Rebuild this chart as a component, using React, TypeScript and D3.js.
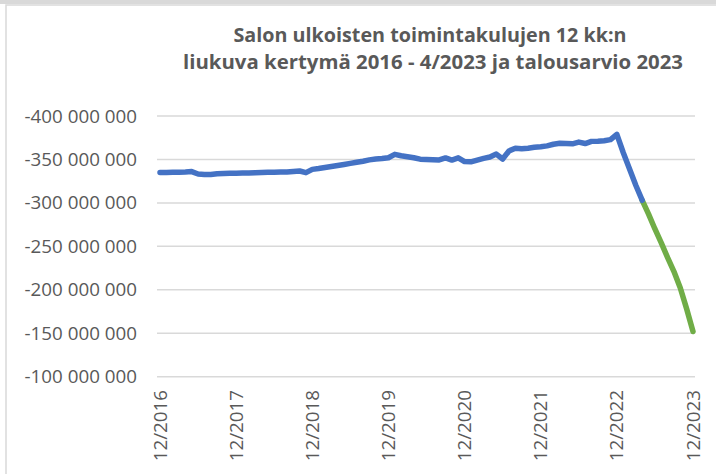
import React from 'react'
import * as d3 from 'd3'

// 12 kk liukuva kertymä, milj. euroa (luettu kuvasta)
const actualValues = [
	-335.0, -335.0, -335.2, -335.4, -335.6, -336.0, -333.3, -332.8, -332.8, -333.6, -333.8, -334.0,
	-334.1, -334.3, -334.4, -334.7, -335.0, -335.2, -335.4, -335.5, -335.6, -336.2, -336.7, -334.8,
	-338.6, -339.6, -340.8, -341.9, -343.0, -344.2, -345.5, -346.8, -348.0, -349.5, -350.5, -351.0,
	-352.0, -355.9, -354.2, -353.2, -352.0, -350.3, -350.0, -349.7, -349.5, -351.8, -349.3, -351.8,
	-347.5, -347.3, -349.3, -351.2, -352.8, -356.2, -350.5, -359.8, -363.0, -362.3, -363.0, -364.0,
	-364.6, -365.6, -367.5, -368.6, -368.4, -368.0, -370.0, -368.3, -370.8, -371.0, -371.5, -372.8,
	-378.9, -358.0, -339.0, -320.0, -303.0,
]
// talousarvio 4/2023 - 12/2023
const budgetValues = [-303.0, -287.0, -270.0, -254.0, -237.0, -221.0, -202.0, -178.0, -152.0]

const yTicks = [-400, -350, -300, -250, -200, -150, -100]
const xTickLabels = ['12/2016', '12/2017', '12/2018', '12/2019', '12/2020', '12/2021', '12/2022', '12/2023']
const titleLines = ['Salon ulkoisten toimintakulujen 12 kk:n', 'liukuva kertymä 2016 - 4/2023 ja talousarvio 2023']

const months = d3.timeMonth.range(new Date(2016, 11, 1), new Date(2024, 0, 1)).map(d => `${d.getMonth() + 1}/${d.getFullYear()}`)

const locale = d3.formatLocale({ decimal: ',', thousands: ' ', grouping: [3], currency: ['', ''], minus: '-' })
const fmt = locale.format(',.0f')

const width = 716
const height = 474
const grey = '#595959'

const App = () => {
	const x = d3.scalePoint<string>().domain(months).range([160, 693])
	const y = d3.scaleLinear().domain([-400, -100]).range([116, 376.7])

	const line = d3.line<[string, number]>()
		.x(d => x(d[0]) as number)
		.y(d => y(d[1]))

	const actual: [string, number][] = actualValues.map((v, i) => [months[i], v])
	const budget: [string, number][] = budgetValues.map((v, i) => [months[actualValues.length - 1 + i], v])

	return (
		<svg width={width} height={height} style={{ position: 'absolute', left: 0, top: 0, background: '#fff' }}>
			<rect x={0} y={0} width={width} height={4} fill="#d9d9d9" />
			<rect x={6} y={5} width={width} height={height} fill="#fff" stroke="#d9d9d9" strokeWidth={1.5} />

			<g fontFamily="'Open Sans', sans-serif" fontWeight="bold" fontSize={19.5} fill={grey} textAnchor="middle">
				<text x={430} y={42} textLength={393} lengthAdjust="spacingAndGlyphs">{titleLines[0]}</text>
				<text x={433} y={69} textLength={500} lengthAdjust="spacingAndGlyphs">{titleLines[1]}</text>
			</g>

			<g>
				{yTicks.map(t => (
					<line key={t} x1={157} x2={695} y1={y(t)} y2={y(t)} stroke="#d9d9d9" strokeWidth={1.5} />
				))}
			</g>

			<g fontFamily="'Open Sans', sans-serif" fontSize={18.8} fill={grey}>
				{yTicks.map(t => (
					<text key={t} x={137} y={y(t)} dy="0.35em" textAnchor="end">{fmt(t * 1e6)}</text>
				))}
				{xTickLabels.map(l => (
					<text key={l} transform={`translate(${x(l)},390) rotate(-90)`} dy="0.35em" textAnchor="end">{l}</text>
				))}
			</g>

			<path d={line(budget) as string} fill="none" stroke="#70AD47" strokeWidth={5.5} strokeLinejoin="round" strokeLinecap="round" />
			<path d={line(actual) as string} fill="none" stroke="#4472C4" strokeWidth={5.5} strokeLinejoin="round" strokeLinecap="round" />
		</svg>
	)
}

export default App
